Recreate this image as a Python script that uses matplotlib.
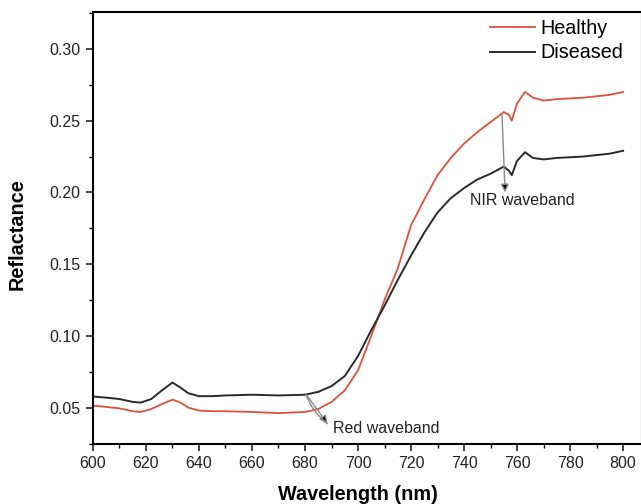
import matplotlib.pyplot as plt
from matplotlib.ticker import MultipleLocator

plt.rcParams['font.family'] = ['Liberation Sans', 'DejaVu Sans']

# wavelength (nm) and reflectance
wl_healthy = [600, 605, 610, 615, 618, 622, 626, 630, 633, 636, 640, 645, 650, 660, 670,
              680, 685, 690, 695, 700, 705, 710, 715, 720, 725, 730, 735, 740, 745,
              750, 755, 757, 758, 760, 763, 766, 770, 775, 780, 785, 790, 795, 800]
healthy = [0.0514, 0.0505, 0.0495, 0.0475, 0.047, 0.049, 0.0525, 0.0556, 0.0535, 0.050,
           0.048, 0.0475, 0.0475, 0.047, 0.0462, 0.047, 0.049, 0.054, 0.062, 0.076,
           0.100, 0.125, 0.147, 0.177, 0.195, 0.212, 0.224, 0.234, 0.242, 0.249,
           0.256, 0.254, 0.250, 0.262, 0.270, 0.266, 0.264, 0.265, 0.2655, 0.266,
           0.267, 0.268, 0.270]

wl_diseased = [600, 605, 610, 615, 618, 622, 626, 630, 633, 636, 640, 645, 650, 660, 670,
               680, 685, 690, 695, 700, 705, 710, 715, 720, 725, 730, 735, 740, 745,
               750, 755, 757, 758, 760, 763, 766, 770, 775, 780, 785, 790, 795, 800]
diseased = [0.0577, 0.057, 0.056, 0.054, 0.0535, 0.056, 0.062, 0.0675, 0.064, 0.060,
            0.058, 0.058, 0.0585, 0.059, 0.0585, 0.059, 0.061, 0.065, 0.072, 0.086,
            0.104, 0.121, 0.139, 0.156, 0.172, 0.186, 0.196, 0.203, 0.209, 0.213,
            0.218, 0.215, 0.212, 0.222, 0.228, 0.224, 0.223, 0.224, 0.2245, 0.225,
            0.226, 0.227, 0.229]

fig = plt.figure(figsize=(6.41, 5.04), dpi=100)
ax = fig.add_axes([0.145, 0.12, 0.856, 0.857])

ax.plot(wl_healthy, healthy, color='#e0503c', lw=1.3, label='Healthy')
ax.plot(wl_diseased, diseased, color='#2a2a2a', lw=1.4, label='Diseased')

ax.set_xlim(600, 807)
ax.set_ylim(0.025, 0.326)
ax.xaxis.set_major_locator(MultipleLocator(20))
ax.xaxis.set_minor_locator(MultipleLocator(10))
ax.yaxis.set_major_locator(MultipleLocator(0.05))
ax.yaxis.set_minor_locator(MultipleLocator(0.025))
ax.yaxis.set_major_formatter(lambda v, p: f"{v:.2f}")
ax.tick_params(direction='out', labelsize=11.5, length=5, width=1.2, colors='#222222', pad=4)
ax.tick_params(which='minor', direction='out', length=3, width=1.0)
for s in ax.spines.values():
    s.set_linewidth(1.5)

ax.set_xlabel('Wavelength (nm)', fontsize=14.3, fontweight='bold')
ax.set_ylabel('Reflactance', fontsize=14.3, fontweight='bold')
ax.xaxis.set_label_coords(0.483, -0.095)
ax.yaxis.set_label_coords(-0.12, 0.485)

# annotations: grey leader lines, black arrowheads
arrow_kw = dict(arrowstyle='-|>', edgecolor='#8a8a8a', facecolor='black', lw=1.0,
                mutation_scale=12, shrinkA=0, shrinkB=0)
ax.annotate('', xy=(688.5, 0.0388), xytext=(680.2, 0.0598), arrowprops=arrow_kw)
ax.annotate('', xy=(688.5, 0.0388), xytext=(680.2, 0.0598),
            arrowprops=dict(arrowstyle='-', color='#8a8a8a', lw=1.0,
                            connectionstyle='arc3,rad=0.15', shrinkA=0, shrinkB=0))
ax.text(690.5, 0.0353, 'Red waveband', fontsize=11.5, va='center', ha='left', color='#222222')

ax.annotate('', xy=(755.5, 0.200), xytext=(754.3, 0.255), arrowprops=arrow_kw)
ax.text(762, 0.1945, 'NIR waveband', fontsize=11.5, va='center', ha='center', color='#222222')

ax.legend(loc='upper right', bbox_to_anchor=(0.998, 1.025), frameon=False, fontsize=14.2,
          handlelength=2.3, handletextpad=0.25, labelspacing=0.3)

fig.savefig('out.png', dpi=100)
